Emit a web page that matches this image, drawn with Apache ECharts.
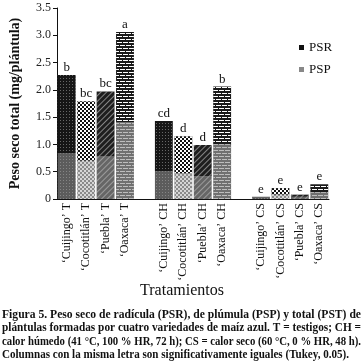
<!DOCTYPE html>
<html>
<head>
<meta charset="utf-8">
<script src="https://cdn.jsdelivr.net/npm/echarts@6/dist/echarts.min.js"></script>
<style>
  html, body { margin: 0; padding: 0; background: #fff; }
  #main { width: 364px; height: 364px; }
</style>
</head>
<body>
<div id="main"></div>
<script>
// categorias (los huecos separan T, CH y CS)
var categories = ["‘Cuijingo’ T", "‘Cocotitlán’ T", "‘Puebla’ T", "‘Oaxaca’ T", "",
  "‘Cuijingo’ CH", "‘Cocotitlán’ CH", "‘Puebla’ CH", "‘Oaxaca’ CH", "",
  "‘Cuijingo’ CS", "‘Cocotitlán’ CS", "‘Puebla’ CS", "‘Oaxaca’ CS"];
// plumula (abajo) y radicula (arriba), mg/plantula
var pspValues = [0.84, 0.70, 0.78, 1.41, '-', 0.51, 0.47, 0.42, 1.00, '-', 0.03, 0.08, 0.04, 0.12];
var psrValues = [1.43, 1.09, 1.19, 1.65, '-', 0.92, 0.68, 0.57, 1.06, '-', 0.01, 0.12, 0.04, 0.15];
var letters = ["b", "bc", "bc", "a", "", "cd", "d", "d", "b", "", "e", "e", "e", "e"];
var yTicks = [0, 0.5, 1.0, 1.5, 2.0, 2.5, 3.0, 3.5];
var caption = [
  "Figura 5. Peso seco de radícula (PSR), de plúmula (PSP) y total (PST) de",
  "plántulas formadas por cuatro variedades de maíz azul. T = testigos; CH =",
  "calor húmedo (41 °C, 100 % HR, 72 h); CS = calor seco (60 °C, 0 % HR, 48 h).",
  "Columnas con la misma letra son significativamente iguales (Tukey, 0.05)."
];

var serif = "'Liberation Serif', 'DejaVu Serif', serif";

// tramas por variedad: [arriba, abajo]
function topStyle(k) {
  if (k == 0) return { color: '#161616', decal: { symbol: 'rect', symbolSize: 1, color: 'rgba(255,255,255,0.35)', dashArrayX: [1, 2], dashArrayY: [1, 2] } };
  if (k == 1) return { color: '#111', decal: { symbol: 'rect', symbolSize: 1, color: '#fff', dashArrayX: [[2, 2], [0, 2, 2, 0]], dashArrayY: [2, 0] } };
  if (k == 2) return { color: '#1e1e1e', decal: { symbol: 'rect', symbolSize: 1, color: 'rgba(255,255,255,0.45)', dashArrayX: [1, 0], dashArrayY: [1, 3], rotation: -Math.PI / 4 } };
  return { color: '#1a1a1a', decal: { symbol: 'rect', symbolSize: 1, color: '#fff', dashArrayX: [[5, 1], [2, 1, 3, 0]], dashArrayY: [1, 2] } };
}
function bottomStyle(k) {
  if (k == 0) return { color: '#5c5c5c', decal: { symbol: 'rect', symbolSize: 1, color: 'rgba(255,255,255,0.25)', dashArrayX: [1, 2], dashArrayY: [1, 2] } };
  if (k == 1) return { color: '#8a8a8a', decal: { symbol: 'rect', symbolSize: 1, color: '#d6d6d6', dashArrayX: [[2, 2], [0, 2, 2, 0]], dashArrayY: [2, 0] } };
  if (k == 2) return { color: '#666', decal: { symbol: 'rect', symbolSize: 1, color: 'rgba(255,255,255,0.35)', dashArrayX: [1, 0], dashArrayY: [1, 3], rotation: -Math.PI / 4 } };
  return { color: '#707070', decal: { symbol: 'rect', symbolSize: 1, color: '#bdbdbd', dashArrayX: [[5, 1], [2, 1, 3, 0]], dashArrayY: [1, 2] } };
}

var pspData = [], psrData = [];
for (var i = 0; i < categories.length; i++) {
  var k = i % 5;
  pspData.push({ value: pspValues[i], itemStyle: bottomStyle(k) });
  psrData.push({ value: psrValues[i], itemStyle: topStyle(k) });
}

// ajustar cada linea del pie al ancho (texto justificado)
var ctx = document.createElement('canvas').getContext('2d');
var capFont = "bold 12.5px " + serif;
ctx.font = capFont;
var capGraphics = [];
for (var j = 0; j < caption.length; j++) {
  var w = ctx.measureText(caption[j]).width;
  var target = j < 3 ? 359 : 347;
  capGraphics.push({
    type: 'text', left: 2, top: 308 + j * 13.5,
    scaleX: target / w,
    style: { text: caption[j], font: capFont, fill: '#111' }
  });
}
capGraphics.push({
  type: 'text', left: 'center', top: 283,
  style: { text: 'Tratamientos', font: "16px " + serif, fill: '#111' }
});

var myChart = echarts.init(document.getElementById('main'));
var option = {
  animation: false,
  backgroundColor: '#fff',
  grid: { left: 57, right: 35, top: 8, bottom: 165 },
  legend: {
    orient: 'vertical', left: 294, top: 36, itemGap: 9,
    itemWidth: 5, itemHeight: 5, icon: 'rect',
    textStyle: { fontFamily: serif, fontSize: 13, color: '#111' },
    data: [{ name: 'PSR', itemStyle: { color: '#111', decal: 'none' } },
           { name: 'PSP', itemStyle: { color: '#888', decal: 'none' } }]
  },
  xAxis: {
    type: 'category', data: categories,
    axisLine: { lineStyle: { color: '#111', width: 1 } },
    axisTick: { length: 4, lineStyle: { color: '#111' } },
    axisLabel: { rotate: 90, interval: 0, margin: 4, fontFamily: serif, fontSize: 12, color: '#111' }
  },
  yAxis: {
    type: 'value', min: 0, max: 3.5, interval: 0.5,
    name: 'Peso seco total (mg/plántula)', nameLocation: 'middle', nameGap: 35,
    nameTextStyle: { fontFamily: serif, fontSize: 14, fontWeight: 'bold', color: '#111' },
    axisLine: { show: true, lineStyle: { color: '#111' } },
    axisTick: { show: true, length: 4, lineStyle: { color: '#111' } },
    splitLine: { show: false },
    axisLabel: {
      margin: 6, fontFamily: serif, fontSize: 12, color: '#222',
      formatter: function(v) { return v == 0 ? '0' : v.toFixed(1); }
    }
  },
  series: [{
    name: 'PSP', type: 'bar', stack: 'pst', barCategoryGap: '8%',
    data: pspData
  }, {
    name: 'PSR', type: 'bar', stack: 'pst', barCategoryGap: '8%',
    data: psrData,
    label: {
      show: true, position: 'top', distance: 1,
      fontFamily: serif, fontSize: 13, color: '#111',
      formatter: function(p) { return letters[p.dataIndex]; }
    }
  }],
  graphic: capGraphics
};
myChart.setOption(option);
</script>
</body>
</html>
